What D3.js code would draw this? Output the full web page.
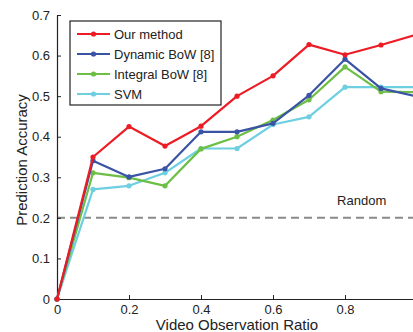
<!DOCTYPE html>
<html>
<head>
<meta charset="utf-8">
<script src="https://cdn.jsdelivr.net/npm/d3@7"></script>
<style>
  body { margin: 0; background: #fff; }
  svg { display: block; font-family: 'Liberation Sans', Arial, sans-serif; }
</style>
</head>
<body>
<div id="chart"></div>
<script>
// Data
const ratios = [0, 0.1, 0.2, 0.3, 0.4, 0.5, 0.6, 0.7, 0.8, 0.9, 1.0];
const ourMethod = [0, 0.35, 0.425, 0.377, 0.426, 0.5, 0.55, 0.627, 0.602, 0.626, 0.652];
const dynamicBoW = [0, 0.341, 0.301, 0.321, 0.412, 0.412, 0.433, 0.502, 0.591, 0.519, 0.499];
const integralBoW = [0, 0.311, 0.299, 0.279, 0.37, 0.4, 0.441, 0.491, 0.572, 0.511, 0.51];
const svmValues = [0, 0.27, 0.279, 0.311, 0.371, 0.371, 0.43, 0.449, 0.522, 0.522, 0.522];
const seriesNames = ['Our method', 'Dynamic BoW [8]', 'Integral BoW [8]', 'SVM'];
const seriesColors = ['#ed1c24', '#3a53a4', '#6cbe45', '#6dcfe0'];
const xTicks = [0, 0.2, 0.4, 0.6, 0.8];
const yTicks = [0, 0.1, 0.2, 0.3, 0.4, 0.5, 0.6, 0.7];
const randomLevel = 0.2;

const margin = { top: 15, right: 0, bottom: 33, left: 57 };
const W = 413, H = 332;
const width = 360, height = 284;

const svg = d3.select('#chart').append('svg')
	.attr('width', W)
	.attr('height', H);

const x = d3.scaleLinear().domain([0, 1]).range([0, width]);
const y = d3.scaleLinear().domain([0, 0.7]).range([height, 0]);

const chart = svg.append('g')
	.attr('transform', 'translate(' + margin.left + ',' + margin.top + ')');

// Random baseline
chart.append('line')
	.attr('x1', x(0))
	.attr('x2', x(1))
	.attr('y1', y(randomLevel))
	.attr('y2', y(randomLevel))
	.attr('stroke', '#8a8a8a')
	.attr('stroke-width', 2)
	.attr('stroke-dasharray', '8,5');
chart.append('text')
	.attr('x', x(0.778))
	.attr('y', y(0.232))
	.attr('font-size', 13)
	.attr('fill', '#222')
	.text('Random');

// Axes (MATLAB style, ticks inward)
const xAxis = d3.axisBottom(x).tickValues(xTicks).tickSizeInner(-4).tickSizeOuter(0)
	.tickPadding(6).tickFormat(d => d === 0 ? '0' : d3.format('.1f')(d));
const yAxis = d3.axisLeft(y).tickValues(yTicks).tickSizeInner(-4).tickSizeOuter(0)
	.tickPadding(7).tickFormat(d => d === 0 ? '0' : d3.format('.1f')(d));

const aX = chart.append('g')
	.attr('transform', 'translate(0,' + height + ')')
	.call(xAxis);
const aY = chart.append('g').call(yAxis);
[aX, aY].forEach(a => {
	a.select('.domain').attr('stroke', '#222').attr('stroke-width', 1.2);
	a.selectAll('.tick line').attr('stroke', '#222');
	a.selectAll('text').attr('font-size', 13).attr('fill', '#222')
		.attr('font-family', "'Liberation Sans', Arial, sans-serif");
});

// Axis titles
svg.append('text')
	.attr('x', margin.left + width / 2)
	.attr('y', 330)
	.attr('text-anchor', 'middle')
	.attr('font-size', 15)
	.attr('fill', '#222')
	.text('Video Observation Ratio');
svg.append('text')
	.attr('transform', 'translate(27,' + (margin.top + height / 2 + 3) + ') rotate(-90)')
	.attr('text-anchor', 'middle')
	.attr('font-size', 15)
	.attr('fill', '#222')
	.text('Prediction Accuracy');

// Lines
const allSeries = [ourMethod, dynamicBoW, integralBoW, svmValues];
const line = d3.line()
	.x((d, i) => x(ratios[i]))
	.y(d => y(d));

// draw back to front so red is on top
[3, 2, 1, 0].forEach(k => {
	const g = chart.append('g');
	g.append('path')
		.datum(allSeries[k])
		.attr('d', line)
		.attr('fill', 'none')
		.attr('stroke', seriesColors[k])
		.attr('stroke-width', 2.2)
		.attr('stroke-linejoin', 'round');
	g.selectAll('circle')
		.data(allSeries[k])
		.enter()
		.append('circle')
		.attr('cx', (d, i) => x(ratios[i]))
		.attr('cy', d => y(d))
		.attr('r', 2.6)
		.attr('fill', seriesColors[k]);
});

// Legend
const legend = svg.append('g').attr('transform', 'translate(70,21)');
legend.append('rect')
	.attr('width', 151)
	.attr('height', 84)
	.attr('fill', '#fff')
	.attr('stroke', '#222')
	.attr('stroke-width', 1.2);
seriesNames.forEach((name, i) => {
	const row = legend.append('g').attr('transform', 'translate(0,' + (13 + i * 20) + ')');
	row.append('line')
		.attr('x1', 7).attr('x2', 40)
		.attr('stroke', seriesColors[i])
		.attr('stroke-width', 2.2);
	row.append('circle')
		.attr('cx', 23.5).attr('r', 2.6)
		.attr('fill', seriesColors[i]);
	row.append('text')
		.attr('x', 44)
		.attr('y', 5)
		.attr('font-size', 13)
		.attr('fill', '#222')
		.text(name);
});
</script>
</body>
</html>
